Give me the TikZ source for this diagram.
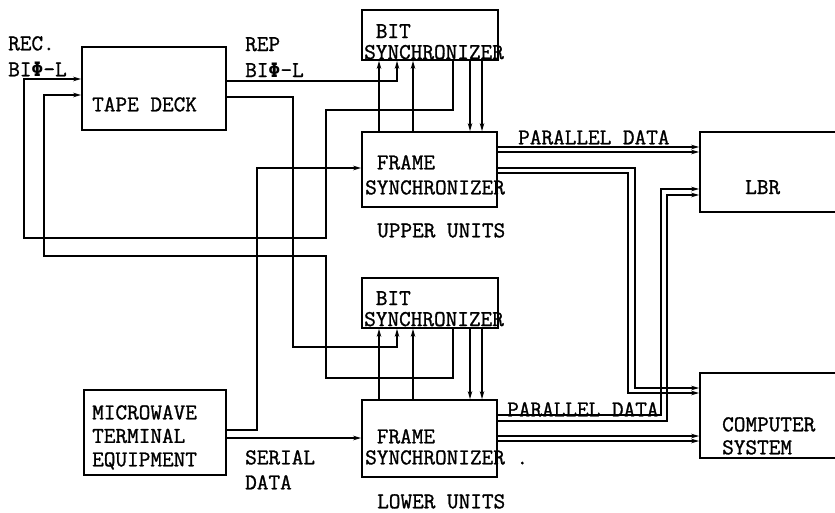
\documentclass[tikz,border=0pt]{standalone}
\usepackage{fontspec}
\newfontfamily\twfont[FakeBold=1.2]{Latin Modern Mono}
\newfontfamily\phifont[Scale=0.88]{DejaVu Sans Mono}
\usetikzlibrary{arrows.meta,positioning,calc}
\newcommand{\tw}[1]{\twfont\bfseries\fontsize{22.6}{#1}\selectfont}
\newcommand{\bphi}{{\phifont Φ}}

\begin{document}
\begin{tikzpicture}[
  x=1pt, y=-1pt,
  blk/.style={rectangle, draw, line width=1.7pt, inner sep=0pt},
  lbl/.style={anchor=north west, inner sep=0pt, align=left, font=\tw{24}},
  arr/.style={line width=1.4pt, -{Stealth[length=8pt,width=4.5pt]}}
]
  \useasboundingbox (0,0) rectangle (835,513);

  % blocks
  \node[blk, minimum width=144pt, minimum height=83pt] (tape) at (154,88.5) {};
  \node[blk, minimum width=136pt, minimum height=50pt] (bsU) at (430,35) {};
  \node[blk, minimum width=135pt, minimum height=75pt] (fsU) at (429.5,169.5) {};
  \node[blk, minimum width=136pt, minimum height=50pt] (bsL) at (430,303) {};
  \node[blk, minimum width=135pt, minimum height=77pt] (fsL) at (429.5,438.5) {};
  \node[blk, minimum width=142pt, minimum height=85pt] (mte) at (155,432.5) {};
  \node[blk, minimum width=170pt, minimum height=80pt] (lbr) at (785,172) {};
  \node[blk, minimum width=170pt, minimum height=85pt] (comp) at (785,415.5) {};

  % texts
  \node[lbl] (tapeT) at (92,97) {TAPE DECK};
  \node[lbl, font=\tw{21}] (bsUT) at (364,24) {\phantom{X}BIT\\SYNCHRONIZER};
  \node[lbl, font=\tw{25}] (fsUT) at (365,155) {\phantom{X}FRAME\\SYNCHRONIZER};
  \node[lbl, font=\tw{21}] (bsLT) at (364,291) {\phantom{X}BIT\\SYNCHRONIZER};
  \node[lbl, font=\tw{21}] (fsLT) at (365,429) {\phantom{X}FRAME\\SYNCHRONIZER .};
  \node[lbl] (upT) at (377,223) {UPPER UNITS};
  \node[lbl] (loT) at (377,494) {LOWER UNITS};
  \node[lbl, font=\tw{23.5}] (mteT) at (92,405) {MICROWAVE\\TERMINAL\\EQUIPMENT};
  \node[lbl] (lbrT) at (745,180) {LBR};
  \node[lbl, font=\tw{23}] (compT) at (722,417) {COMPUTER\\SYSTEM};
  \node[lbl, font=\tw{26}] (recT) at (8,36) {REC.\\BI\bphi-L};
  \node[lbl, font=\tw{26}] (repT) at (245,37) {REP\\BI\bphi-L};
  \node[lbl] (parU) at (518,130) {PARALLEL DATA};
  \node[lbl] (parL) at (507,402) {PARALLEL DATA};
  \node[lbl, font=\tw{25}] (serT) at (245,450) {SERIAL\\DATA};

  % tape deck replay to bit synchronizers
  \draw[arr] (tape.east |- 0,81) -| (bsU.south -| 397,0);
  \draw[arr] (tape.east |- 0,97) -| (293,347) -| (bsL.south -| 397,0);

  % bit synchronizers back to tape deck record
  \draw[arr] (bsU.south -| 453,0) |- (326,110) |- (24,238) |- (tape.west |- 0,79);
  \draw[arr] (bsL.south -| 453,0) |- (326,378) |- (44,256) |- (tape.west |- 0,95);

  % bit / frame synchronizer links
  \foreach \u in {U,L} {
    \draw[arr] (fs\u.north -| 379,0) -- (bs\u.south -| 379,0);
    \draw[arr] (fs\u.north -| 413,0) -- (bs\u.south -| 413,0);
    \draw[arr] (bs\u.south -| 470,0) -- (fs\u.north -| 470,0);
    \draw[arr] (bs\u.south -| 482,0) -- (fs\u.north -| 482,0);
  }

  % microwave serial data
  \draw[arr] (mte.east |- 0,430) -| (257,168) -- (fsU.west |- 0,168);
  \draw[arr] (mte.east |- 0,438) -- (fsL.west |- 0,438);

  % parallel data
  \draw[arr] (fsU.east |- 0,147) -- (lbr.west |- 0,147);
  \draw[arr] (fsU.east |- 0,152) -- (lbr.west |- 0,152);
  \draw[arr] (fsU.east |- 0,168) -| (635,388) -- (comp.west |- 0,388);
  \draw[arr] (fsU.east |- 0,173) -| (628,393) -- (comp.west |- 0,393);
  \draw[arr] (fsL.east |- 0,415) -| (661,189) -- (lbr.west |- 0,189);
  \draw[arr] (fsL.east |- 0,421) -| (667,195) -- (lbr.west |- 0,195);
  \draw[arr] (fsL.east |- 0,436) -- (comp.west |- 0,436);
  \draw[arr] (fsL.east |- 0,441) -- (comp.west |- 0,441);
\end{tikzpicture}
\end{document}
